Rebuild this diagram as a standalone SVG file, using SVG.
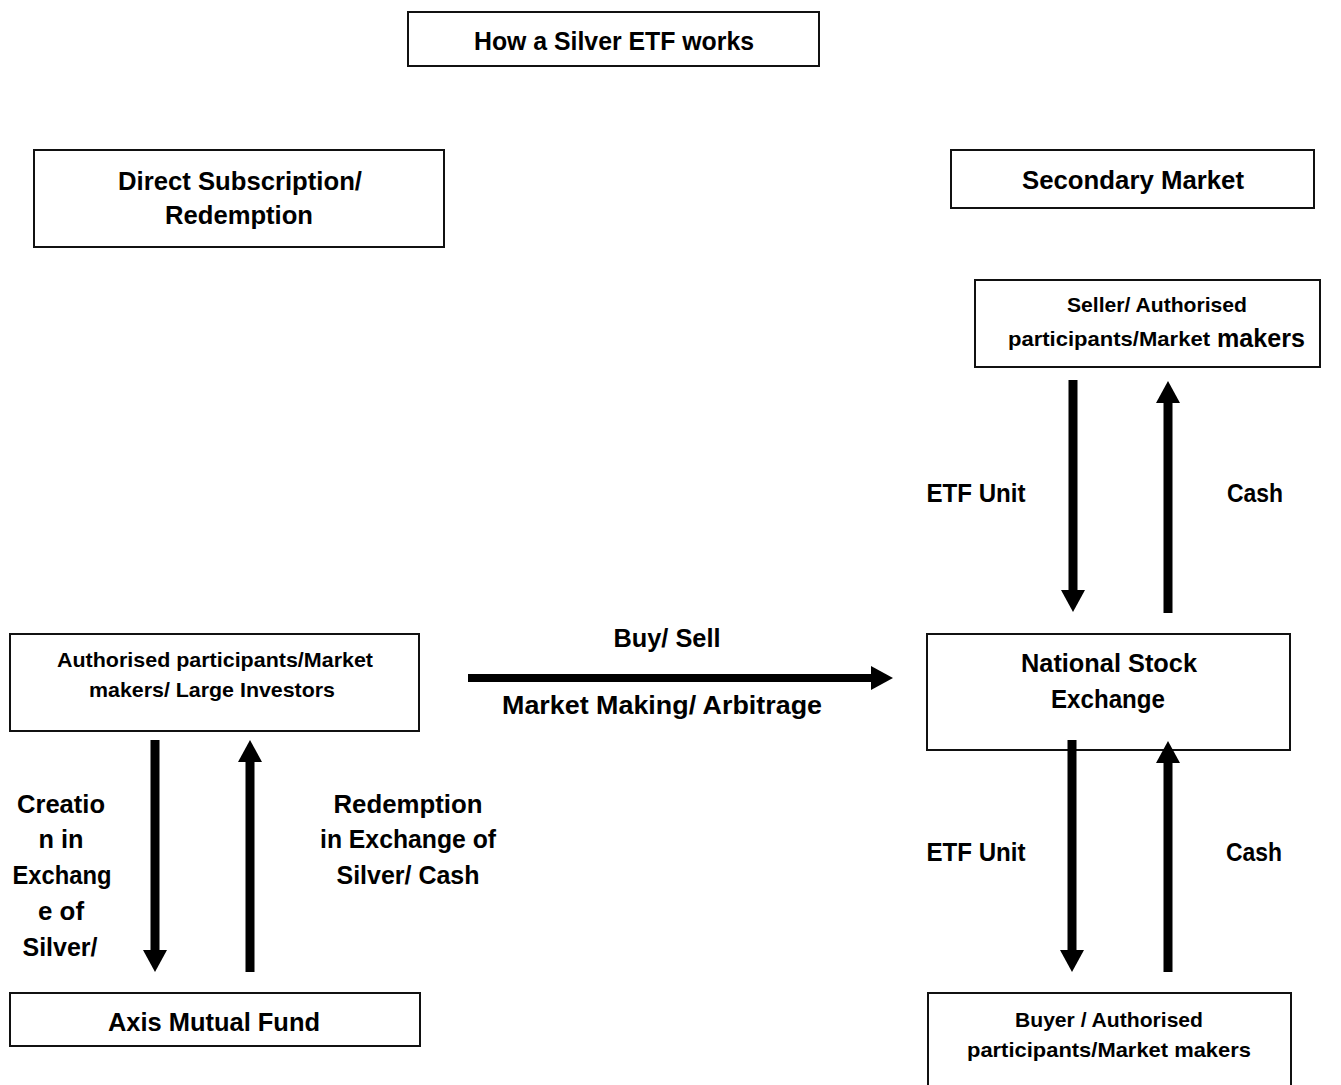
<svg xmlns="http://www.w3.org/2000/svg" width="1341" height="1085" viewBox="0 0 1341 1085">
<style>
.box{fill:#fff;stroke:#111;stroke-width:2}
.t{font-family:"Liberation Sans",Arial,sans-serif;font-weight:bold;fill:#000;text-anchor:middle}
.l{font-size:26px}
.s{font-size:21px}
.arr{stroke:#000;stroke-width:9;fill:none;marker-end:url(#ah)}
</style>
<defs>
<marker id="ah" markerUnits="userSpaceOnUse" markerWidth="24" markerHeight="24" viewBox="0 0 22 24" refX="0" refY="12" orient="auto">
<path d="M0,0 L22,12 L0,24 z" fill="#000"/>
</marker>
</defs>
<rect width="1341" height="1085" fill="#fff"/>

<g id="title">
<rect class="box" x="408" y="12" width="411" height="54"/>
<text class="t l" x="614" y="50" textLength="280" lengthAdjust="spacingAndGlyphs">How a Silver ETF works</text>
</g>

<g id="direct">
<rect class="box" x="34" y="150" width="410" height="97"/>
<text class="t l" x="240" y="190" textLength="244" lengthAdjust="spacingAndGlyphs">Direct Subscription/</text>
<text class="t l" x="239" y="224" textLength="148" lengthAdjust="spacingAndGlyphs">Redemption</text>
</g>

<g id="secondary">
<rect class="box" x="951" y="150" width="363" height="58"/>
<text class="t l" x="1133" y="189" textLength="222" lengthAdjust="spacingAndGlyphs">Secondary Market</text>
</g>

<g id="seller">
<rect class="box" x="975" y="280" width="345" height="87"/>
<text class="t s" x="1157" y="312" textLength="180" lengthAdjust="spacingAndGlyphs">Seller/ Authorised</text>
<text class="t s" x="1109" y="346" textLength="202" lengthAdjust="spacingAndGlyphs">participants/Market</text>
<text class="t l" x="1261" y="347" textLength="88" lengthAdjust="spacingAndGlyphs">makers</text>
</g>

<g id="ap">
<rect class="box" x="10" y="634" width="409" height="97"/>
<text class="t s" x="215" y="667" textLength="316" lengthAdjust="spacingAndGlyphs">Authorised participants/Market</text>
<text class="t s" x="212" y="697" textLength="246" lengthAdjust="spacingAndGlyphs">makers/ Large Investors</text>
</g>

<g id="nse">
<rect class="box" x="927" y="634" width="363" height="116"/>
<text class="t l" x="1109" y="672" textLength="176" lengthAdjust="spacingAndGlyphs">National Stock</text>
<text class="t l" x="1108" y="708" textLength="114" lengthAdjust="spacingAndGlyphs">Exchange</text>
</g>

<g id="axis">
<rect class="box" x="10" y="993" width="410" height="53"/>
<text class="t l" x="214" y="1031" textLength="212" lengthAdjust="spacingAndGlyphs">Axis Mutual Fund</text>
</g>

<g id="buyer">
<rect class="box" x="928" y="993" width="363" height="100"/>
<text class="t s" x="1109" y="1027" textLength="188" lengthAdjust="spacingAndGlyphs">Buyer / Authorised</text>
<text class="t s" x="1109" y="1057" textLength="284" lengthAdjust="spacingAndGlyphs">participants/Market makers</text>
</g>

<g id="connectors">
<line class="arr" x1="1073" y1="380" x2="1073" y2="590"/>
<line class="arr" x1="1168" y1="613" x2="1168" y2="403"/>
<line class="arr" x1="1072" y1="740" x2="1072" y2="950"/>
<line class="arr" x1="1168" y1="972" x2="1168" y2="763"/>
<line class="arr" x1="155" y1="740" x2="155" y2="950"/>
<line class="arr" x1="250" y1="972" x2="250" y2="762"/>
<line class="arr" x1="468" y1="678" x2="871" y2="678" style="stroke-width:8"/>
</g>

<g id="labels">
<text class="t l" x="976" y="502" textLength="99" lengthAdjust="spacingAndGlyphs">ETF Unit</text>
<text class="t l" x="1255" y="502" textLength="56" lengthAdjust="spacingAndGlyphs">Cash</text>
<text class="t l" x="976" y="861" textLength="99" lengthAdjust="spacingAndGlyphs">ETF Unit</text>
<text class="t l" x="1254" y="861" textLength="56" lengthAdjust="spacingAndGlyphs">Cash</text>
<text class="t l" x="667" y="647" textLength="107" lengthAdjust="spacingAndGlyphs">Buy/ Sell</text>
<text class="t l" x="662" y="714" textLength="320" lengthAdjust="spacingAndGlyphs">Market Making/ Arbitrage</text>
<text class="t l" x="61" y="813" textLength="88" lengthAdjust="spacingAndGlyphs">Creatio</text>
<text class="t l" x="61" y="848" textLength="45" lengthAdjust="spacingAndGlyphs">n in</text>
<text class="t l" x="62" y="884" textLength="99" lengthAdjust="spacingAndGlyphs">Exchang</text>
<text class="t l" x="61" y="920" textLength="46" lengthAdjust="spacingAndGlyphs">e of</text>
<text class="t l" x="60" y="956" textLength="75" lengthAdjust="spacingAndGlyphs">Silver/</text>
<text class="t l" x="408" y="813" textLength="149" lengthAdjust="spacingAndGlyphs">Redemption</text>
<text class="t l" x="408" y="848" textLength="176" lengthAdjust="spacingAndGlyphs">in Exchange of</text>
<text class="t l" x="408" y="884" textLength="143" lengthAdjust="spacingAndGlyphs">Silver/ Cash</text>
</g>
</svg>
